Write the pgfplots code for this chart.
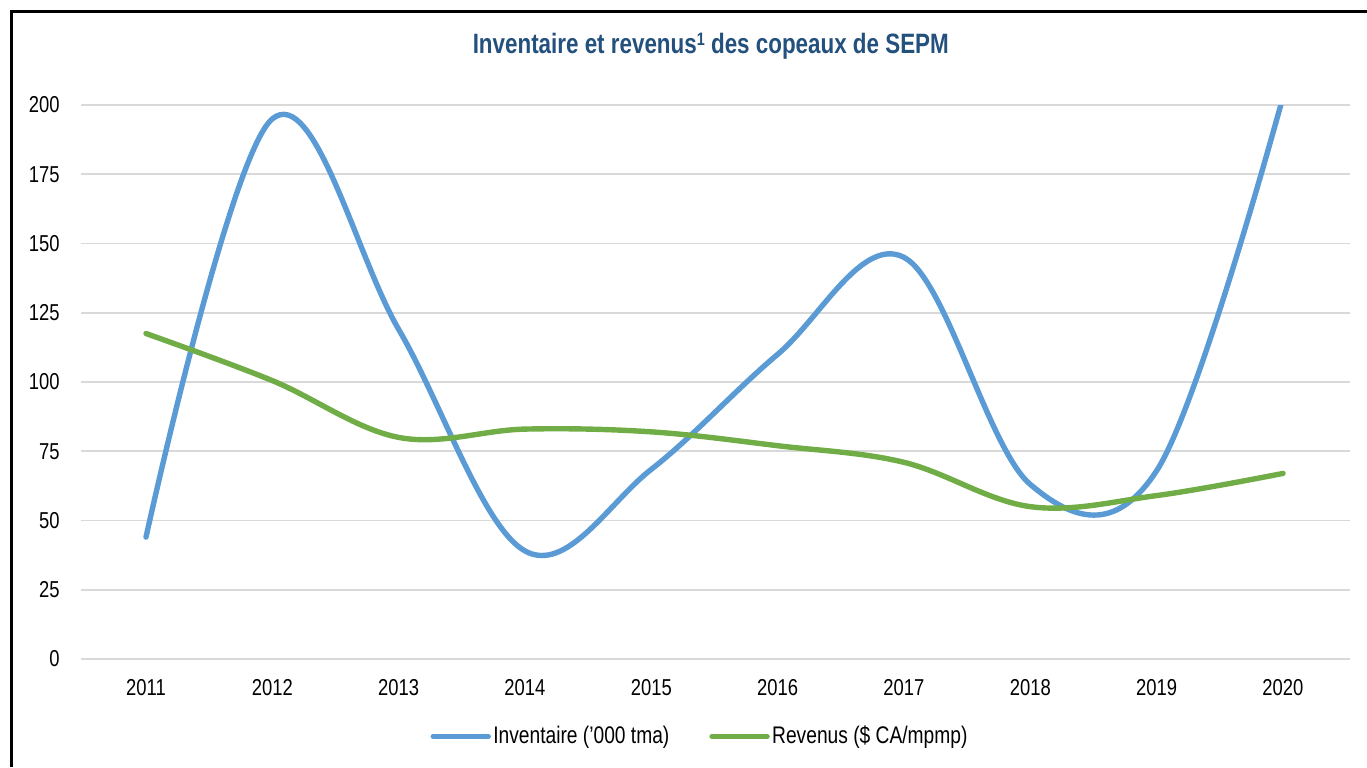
\documentclass[border=0pt]{standalone}
\usepackage{pgfplots}
\pgfplotsset{compat=1.18}
\usepackage{fontspec}
\setmainfont{Liberation Sans}[FakeStretch=0.8]
\definecolor{invblue}{HTML}{5B9BD5}
\definecolor{revgreen}{HTML}{70AD47}
\definecolor{gridgray}{HTML}{D9D9D9}
\definecolor{titleblue}{HTML}{23507D}
\begin{document}
\begin{tikzpicture}
\path[use as bounding box] (0,0) rectangle (683.5pt,383.5pt);
\draw[line width=1.3pt] (5.67pt,0pt) -- (5.67pt,377.85pt) -- (683.5pt,377.85pt);
\node[anchor=base, font=\bfseries\fontsize{14}{16}\selectfont, text=titleblue, inner sep=0pt]
  at (355.4pt,356.85pt) {Inventaire et revenus\raisebox{0.5ex}{\fontsize{9}{10}\selectfont 1} des copeaux de SEPM};
\begin{axis}[
  at={(40.5pt,54pt)}, anchor=south west,
  scale only axis, width=634.5pt, height=277pt,
  xmin=2010.4855, xmax=2020.53,
  ymin=0, ymax=200,
  xtick={2011,2012,...,2020},
  ytick={0,25,...,200},
  axis line style={draw=none},
  tick style={draw=none},
  major tick length=0pt,
  ymajorgrids,
  grid style={color=gridgray, line width=0.8pt},
  /pgf/number format/assume math mode=true,
  /pgf/number format/1000 sep={},
  ticklabel style={font=\fontsize{11.5}{13}\selectfont, inner sep=0pt},
  yticklabel style={anchor=east, xshift=-10.5pt},
  xticklabel style={anchor=north, yshift=-10pt},
  legend columns=2,
  legend style={at={(0.487,-0.1397)}, anchor=center, draw=none, fill=none,
    font=\fontsize{12}{14}\selectfont,
    nodes={inner sep=0pt},
    /tikz/every odd column/.append style={column sep=1.2pt},
    /tikz/every even column/.append style={column sep=20pt}},
  legend cell align=left,
  legend image code/.code={\draw[#1, line cap=round] (0pt,0pt) -- (27.5pt,0pt);},
]
\addplot[color=invblue, line width=2.7pt, smooth, tension=0.6, line cap=round] coordinates {
  (2011,44) (2012,195) (2013,119) (2014,39) (2015,68.5) (2016,110) (2017,145) (2018,63) (2019,68) (2020,203)};
\addlegendentry{Inventaire ('000 tma)}
\addplot[color=revgreen, line width=2.7pt, smooth, tension=0.6, line cap=round] coordinates {
  (2011,117.5) (2012,100.5) (2013,80) (2014,83) (2015,82) (2016,77) (2017,71) (2018,55) (2019,59) (2020,67)};
\addlegendentry{Revenus (\$ CA/mpmp)}
\end{axis}
\end{tikzpicture}
\end{document}
